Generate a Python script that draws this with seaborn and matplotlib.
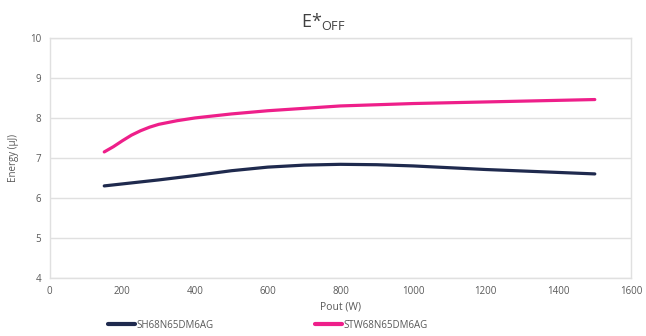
import matplotlib
matplotlib.use("Agg")
import matplotlib.pyplot as plt
import seaborn as sns
import pandas as pd

pout_dark = [150, 200, 300, 400, 500, 600, 700, 800, 900, 1000, 1200, 1500]
energy_dark = [6.30, 6.35, 6.45, 6.56, 6.68, 6.77, 6.82, 6.84, 6.83, 6.80, 6.71, 6.60]
pout_pink = [150, 175, 200, 225, 250, 275, 300, 350, 400, 500, 600, 800, 1000, 1200, 1500]
energy_pink = [7.15, 7.28, 7.43, 7.57, 7.68, 7.77, 7.84, 7.93, 8.00, 8.10, 8.18, 8.30, 8.36, 8.40, 8.46]
series_names = ["SH68N65DM6AG", "STW68N65DM6AG"]
colors = ["#1f2a4e", "#ee1f8a"]

df = pd.concat([
    pd.DataFrame({"Pout": pout_dark, "Energy": energy_dark, "Series": series_names[0]}),
    pd.DataFrame({"Pout": pout_pink, "Energy": energy_pink, "Series": series_names[1]}),
])

sns.set_theme(style="white")
plt.rcParams["font.family"] = ["Open Sans", "DejaVu Sans"]

fig = plt.figure(figsize=(6.46, 3.36), dpi=100)
ax = fig.add_axes([0.077, 0.173, 0.9, 0.714])
sns.lineplot(data=df, x="Pout", y="Energy", hue="Series", palette=colors,
             linewidth=2.3, ax=ax, sort=True)

ax.set_xlim(0, 1600)
ax.set_ylim(4, 10)
ax.set_xticks(range(0, 1601, 200))
ax.set_yticks(range(4, 11))
ax.yaxis.grid(True, color="#e0e0e0", linewidth=1)
for s in ax.spines.values():
    s.set_color("#e0e0e0")
    s.set_linewidth(1)
ax.tick_params(axis="both", labelsize=7, colors="#595959", length=0, pad=6)
ax.set_xlabel("Pout (W)", fontsize=7.5, color="#595959", labelpad=3)
ax.set_ylabel("Energy (µJ)", fontsize=7, color="#595959", labelpad=8)
fig.text(0.5, 0.935, r"E*$_{\mathregular{OFF}}$", ha="center", va="center",
         fontsize=13, color="#404040")

leg = ax.legend(loc="center", bbox_to_anchor=(0.375, -0.197), ncol=2, frameon=False,
                fontsize=7, columnspacing=10.5, handlelength=2.8, handletextpad=0.1,
                borderpad=0, borderaxespad=0)
for t in leg.get_texts():
    t.set_color("#595959")
for l in leg.get_lines():
    l.set_linewidth(3)

fig.savefig("out.png", dpi=100)
